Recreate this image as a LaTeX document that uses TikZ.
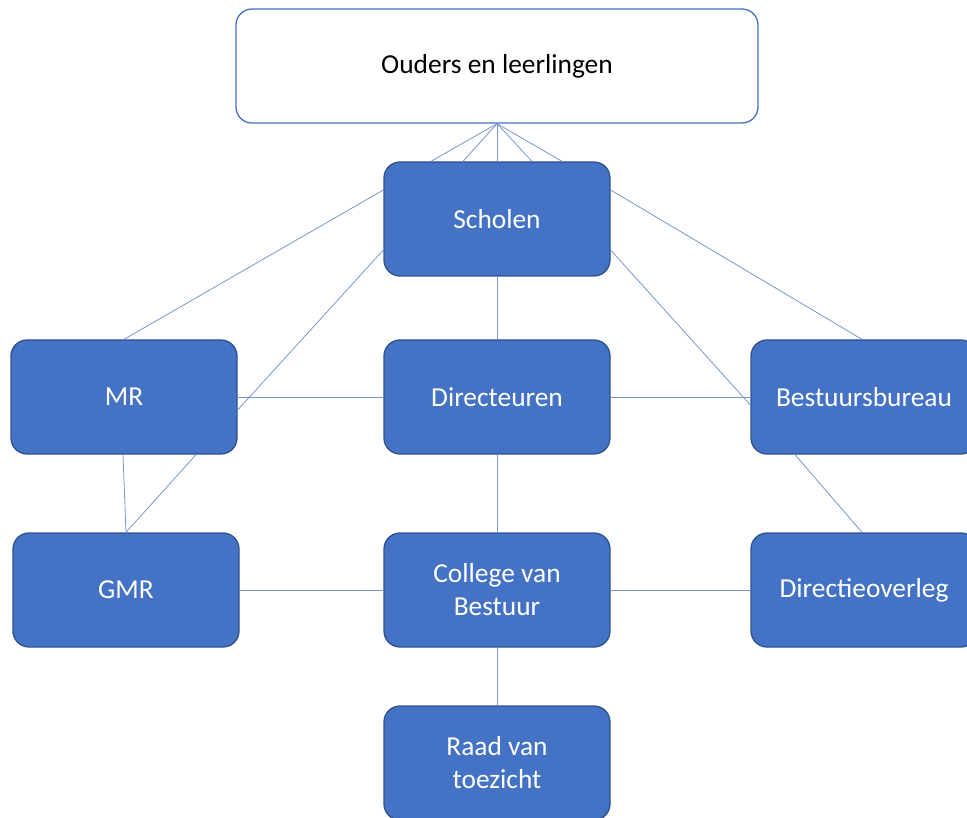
\documentclass[tikz,border=0pt]{standalone}
\usepackage{fontspec}
\setmainfont{Carlito}
\usetikzlibrary{calc}
\definecolor{boxfill}{RGB}{68,114,196}
\definecolor{boxline}{RGB}{47,82,143}
\definecolor{linkc}{RGB}{120,150,210}
\tikzset{
  orgbox/.style={draw=boxline, line width=1.3pt, fill=boxfill, rounded corners=16pt,
    minimum width=226pt, minimum height=114pt, inner sep=0pt, text=white,
    align=center, font=\fontsize{27.4}{33}\selectfont},
  topbox/.style={orgbox, draw=boxfill, fill=white, text=black, minimum width=522pt},
  link/.style={draw=linkc, line width=0.8pt}
}
\begin{document}
\begin{tikzpicture}[x=1pt,y=-1pt]
\useasboundingbox (0,0) rectangle (967,818);
\begin{scope}
\clip (0,0) rectangle (967,818);
\node[topbox] (oud) at (497,66) {Ouders en leerlingen};
\node[orgbox] (sch) at (497,219) {Scholen};
\node[orgbox] (mr) at (124,397) {MR};
\node[orgbox] (dir) at (497,397) {Directeuren};
\node[orgbox] (bb) at (864,397) {Bestuursbureau};
\node[orgbox] (gmr) at (126,590) {GMR};
\node[orgbox] (cvb) at (497,590) {College van\\Bestuur};
\node[orgbox] (do) at (864,590) {Directieoverleg};
\node[orgbox] (rvt) at (497,763) {Raad van\\toezicht};

\draw[link] (oud.south) -- ([xshift=-66pt]sch.north);
\draw[link] (oud.south) -- ([xshift=-34pt]sch.north);
\draw[link] (oud.south) -- (sch.north);
\draw[link] (oud.south) -- ([xshift=35pt]sch.north);
\draw[link] (oud.south) -- ([xshift=65pt]sch.north);

\draw[link] ([yshift=29pt]sch.west) -- (mr.north);
\draw[link] ([yshift=-31pt]sch.west) -- ([yshift=-13pt]mr.east);
\draw[link] ([yshift=29pt]sch.east) -- ([xshift=-2pt]bb.north);
\draw[link] ([yshift=-31pt]sch.east) -- ([yshift=-8pt]bb.west);
\draw[link] (sch.south) -- (dir.north);
\draw[link] (mr.east) -- (dir.west);
\draw[link] (dir.east) -- (bb.west);
\draw[link] (dir.south) -- (cvb.north);
\draw[link] ([xshift=-1pt]mr.south) -- (gmr.north);
\draw[link] ([xshift=72pt]mr.south) -- (gmr.north);
\draw[link] ([xshift=-69pt]bb.south) -- ([xshift=-2pt]do.north);
\draw[link] (gmr.east) -- (cvb.west);
\draw[link] (cvb.east) -- (do.west);
\draw[link] (cvb.south) -- (rvt.north);
\end{scope}
\end{tikzpicture}
\end{document}
